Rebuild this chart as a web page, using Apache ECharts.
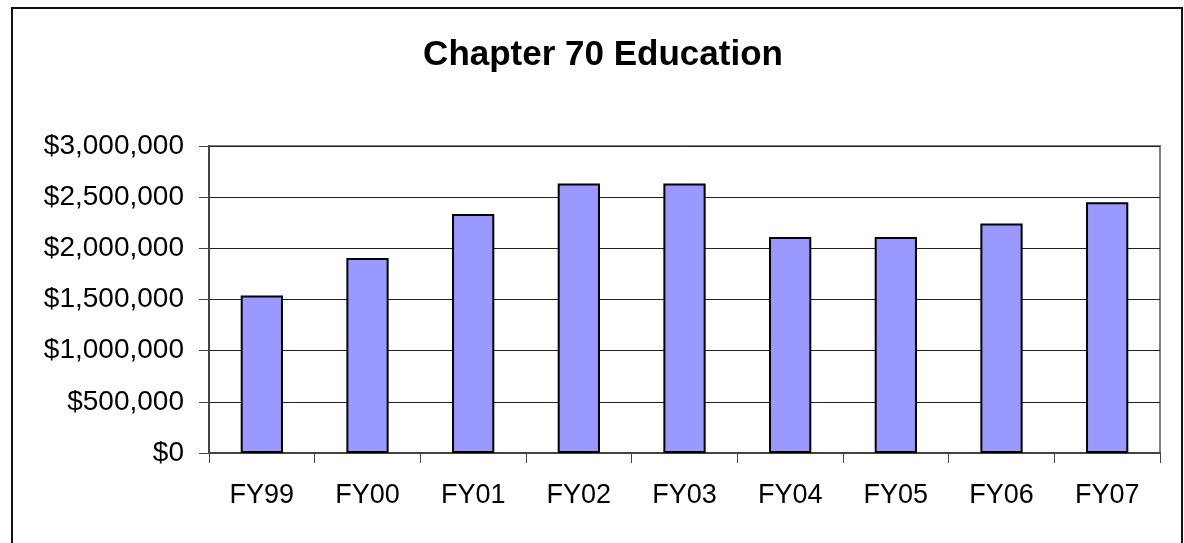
<!DOCTYPE html>
<html>
<head>
<meta charset="utf-8">
<script src="https://cdn.jsdelivr.net/npm/echarts@6/dist/echarts.min.js"></script>
<style>html,body{margin:0;padding:0;background:#fff}#c{width:1184px;height:543px}</style>
</head>
<body>
<div id="c"></div>
<script>
const titleText = 'Chapter 70 Education';
const categories = ['FY99', 'FY00', 'FY01', 'FY02', 'FY03', 'FY04', 'FY05', 'FY06', 'FY07'];
const values = [1540000, 1905000, 2335000, 2633000, 2633000, 2110000, 2110000, 2242000, 2451000];
const yTicks = [0, 500000, 1000000, 1500000, 2000000, 2500000, 3000000];

const fmt = v => '$' + v.toLocaleString('en-US');
const chart = echarts.init(document.getElementById('c'), null, {renderer: 'canvas'});
const font = '"Liberation Sans", Arial, sans-serif';
chart.setOption({
  animation: false,
  backgroundColor: '#fff',
  title: {
    text: titleText,
    left: 598, top: 33, textAlign: 'center',
    textStyle: {fontFamily: font, fontWeight: 'bold', fontSize: 35, color: '#000'}
  },
  graphic: [{
    type: 'rect', shape: {x: 12, y: 8, width: 1170, height: 560},
    style: {fill: 'none', stroke: '#111', lineWidth: 2}, silent: true
  }],
  grid: {left: 209, right: 24, top: 146, bottom: 90, show: true, borderColor: '#808080', borderWidth: 2, backgroundColor: 'transparent'},
  xAxis: {
    type: 'category', data: categories,
    axisLine: {lineStyle: {color: '#444', width: 2}},
    axisTick: {show: true, length: 10, lineStyle: {color: '#444', width: 1}},
    axisLabel: {fontFamily: font, fontSize: 27, color: '#000', margin: 29}
  },
  yAxis: {
    type: 'value', min: yTicks[0], max: yTicks[yTicks.length - 1], interval: 500000,
    axisLine: {show: true, lineStyle: {color: '#444', width: 2}},
    axisTick: {show: true, length: 10, lineStyle: {color: '#444', width: 1}},
    splitLine: {lineStyle: {color: '#222', width: 1}},
    axisLabel: {fontFamily: font, fontSize: 28, color: '#000', margin: 25, formatter: fmt}
  },
  series: [{
    type: 'bar', data: values, barWidth: '40%',
    itemStyle: {color: '#9999FF', borderColor: '#000', borderWidth: 2}
  }]
});
</script>
</body>
</html>
